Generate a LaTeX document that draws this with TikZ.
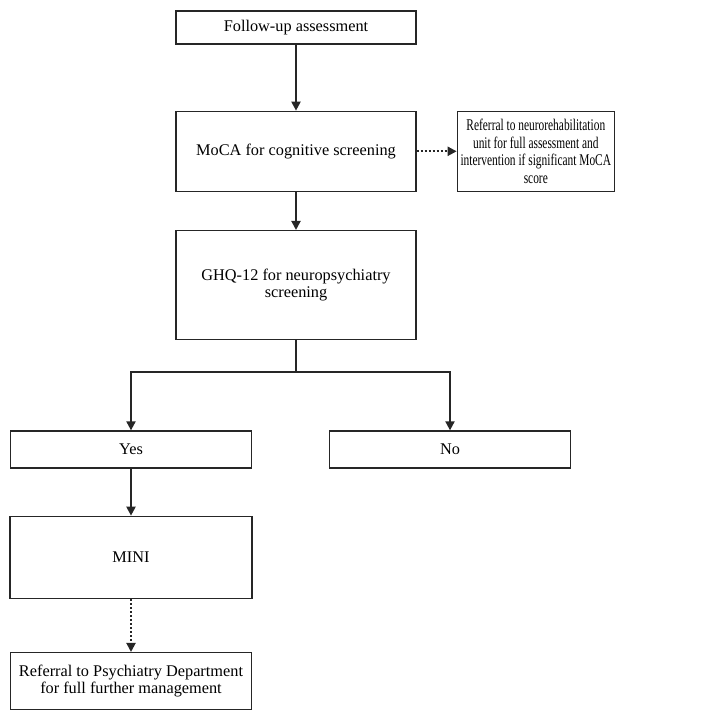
\documentclass[tikz,border=0pt]{standalone}
\usepackage{fontspec}
\setmainfont{Liberation Serif}
\newfontfamily\narrowserif[FakeStretch=0.70]{Liberation Serif}
\usepackage{tikz}
\usetikzlibrary{arrows.meta, positioning}
\definecolor{colorLine}{HTML}{262626}
\tikzset{box/.style={draw=colorLine, line width=1.3pt, align=center, inner sep=1pt, font=\fontsize{16.3}{17.5}\selectfont}}

\begin{document}
\begin{tikzpicture}[x=1pt, y=1pt, >={Triangle[length=9pt, width=9pt]}, line width=2pt, draw=colorLine]
\useasboundingbox (0,0) rectangle (709,-717);
\node[box, minimum width=240pt, minimum height=33pt] (fu) at (296,-27.5) {Follow-up assessment};
\node[box, minimum width=240pt, minimum height=80pt, below=66pt of fu] (moca) {MoCA for cognitive screening};
\node[box, minimum width=157pt, minimum height=80pt, right=40pt of moca, font=\narrowserif\fontsize{16.3}{17.5}\selectfont] (neuro) {Referral to neurorehabilitation\\unit for full assessment and\\intervention if significant MoCA\\score};
\node[box, minimum width=240pt, minimum height=109pt, below=38pt of moca] (ghq) {GHQ-12 for neuropsychiatry\\screening};
\node[box, minimum width=241pt, minimum height=37pt] (yes) at (131,-449.5) {Yes};
\node[box, minimum width=241pt, minimum height=37pt] (no) at (450,-449.5) {No};
\node[box, minimum width=242pt, minimum height=82pt, below=47pt of yes] (mini) {MINI};
\node[box, minimum width=241pt, minimum height=57pt, below=53pt of mini] (psy) {Referral to Psychiatry Department\\for full further management};
\draw [->, colorLine] (fu) -- (moca);
\draw [->, colorLine] (moca) -- (ghq);
\draw [->, colorLine, dotted] (moca) -- (neuro);
\draw [colorLine] (ghq.south) -- ++(0,-31.5) coordinate (split);
\draw [->, colorLine] (split) -| (yes.north);
\draw [->, colorLine] (split) -| (no.north);
\draw [->, colorLine] (yes) -- (mini);
\draw [->, colorLine, dotted] (mini) -- (psy);
\end{tikzpicture}
\end{document}
